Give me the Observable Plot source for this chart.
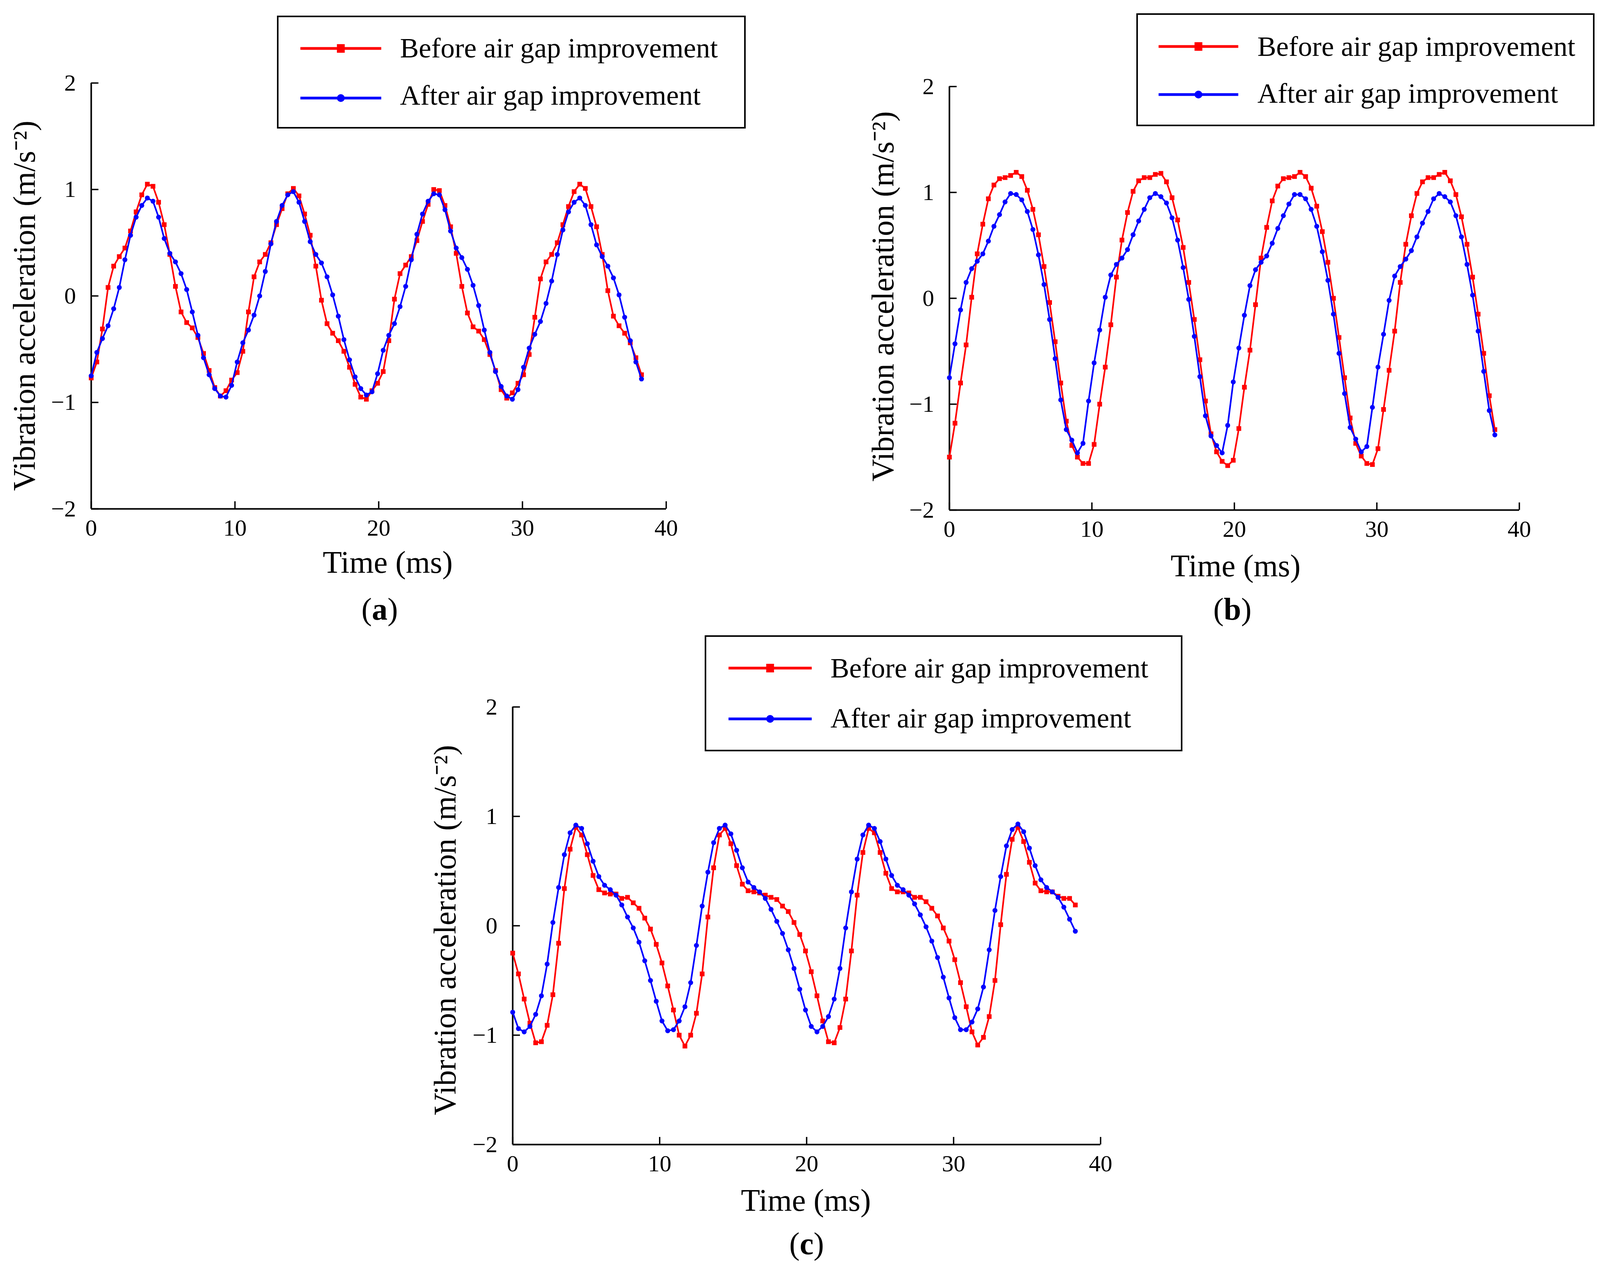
<!DOCTYPE html>
<html><head><meta charset="utf-8">
<script src="https://cdn.jsdelivr.net/npm/d3@7"></script>
<script src="https://cdn.jsdelivr.net/npm/@observablehq/plot@0.6"></script>
<style>
html,body{margin:0;padding:0;background:#fff;}
#page{position:relative;width:4120px;height:3248px;background:#fff;overflow:hidden;}
#page > svg{position:absolute;}
</style></head>
<body><div id="page"></div>
<script>
const time = [0,0.391,0.781,1.172,1.563,1.953,2.344,2.734,3.125,3.516,
3.906,4.297,4.688,5.078,5.469,5.859,6.25,6.641,7.031,7.422,
7.813,8.203,8.594,8.984,9.375,9.766,10.156,10.547,10.938,11.328,
11.719,12.109,12.5,12.891,13.281,13.672,14.063,14.453,14.844,15.234,
15.625,16.016,16.406,16.797,17.188,17.578,17.969,18.359,18.75,19.141,
19.531,19.922,20.313,20.703,21.094,21.484,21.875,22.266,22.656,23.047,
23.438,23.828,24.219,24.609,25,25.391,25.781,26.172,26.563,26.953,
27.344,27.734,28.125,28.516,28.906,29.297,29.688,30.078,30.469,30.859,
31.25,31.641,32.031,32.422,32.813,33.203,33.594,33.984,34.375,34.766,
35.156,35.547,35.938,36.328,36.719,37.109,37.5,37.891,38.281];

const aBefore = [-0.77,-0.62,-0.31,0.08,0.28,0.37,0.45,0.61,0.79,0.95,
1.05,1.03,0.88,0.67,0.39,0.09,-0.15,-0.25,-0.30,-0.39,
-0.54,-0.70,-0.86,-0.94,-0.89,-0.79,-0.72,-0.52,-0.15,0.18,
0.32,0.39,0.50,0.67,0.82,0.96,1.01,0.94,0.77,0.57,
0.28,-0.04,-0.26,-0.35,-0.42,-0.52,-0.67,-0.83,-0.95,-0.97,
-0.89,-0.82,-0.71,-0.42,-0.03,0.21,0.29,0.37,0.52,0.70,
0.86,1.00,0.99,0.85,0.65,0.40,0.09,-0.16,-0.29,-0.33,
-0.41,-0.55,-0.70,-0.88,-0.96,-0.91,-0.82,-0.74,-0.55,-0.20,
0.16,0.32,0.39,0.50,0.67,0.84,0.98,1.05,1.01,0.84,
0.65,0.39,0.05,-0.19,-0.28,-0.35,-0.44,-0.58,-0.74];

const aAfter = [-0.75,-0.53,-0.40,-0.28,-0.12,0.08,0.34,0.57,0.74,0.85,
0.92,0.89,0.74,0.54,0.40,0.32,0.21,0.06,-0.15,-0.37,
-0.58,-0.74,-0.87,-0.94,-0.95,-0.84,-0.62,-0.44,-0.32,-0.18,
0.00,0.23,0.49,0.70,0.85,0.95,0.98,0.88,0.70,0.51,
0.39,0.31,0.18,0.01,-0.19,-0.41,-0.60,-0.76,-0.87,-0.93,
-0.90,-0.73,-0.51,-0.37,-0.26,-0.10,0.09,0.34,0.58,0.77,
0.89,0.96,0.95,0.81,0.61,0.45,0.36,0.25,0.10,-0.09,
-0.32,-0.53,-0.71,-0.85,-0.94,-0.97,-0.88,-0.67,-0.49,-0.36,
-0.24,-0.07,0.14,0.39,0.62,0.79,0.88,0.92,0.85,0.67,
0.48,0.37,0.28,0.17,0.01,-0.20,-0.42,-0.62,-0.78];

const bBefore = [-1.50,-1.18,-0.80,-0.44,0.01,0.42,0.70,0.94,1.07,1.13,
1.14,1.16,1.19,1.15,1.02,0.84,0.60,0.30,-0.04,-0.41,
-0.80,-1.16,-1.39,-1.50,-1.56,-1.56,-1.38,-1.00,-0.65,-0.25,
0.20,0.55,0.81,1.01,1.11,1.14,1.14,1.17,1.18,1.10,
0.95,0.74,0.48,0.15,-0.20,-0.58,-0.97,-1.28,-1.45,-1.54,
-1.58,-1.53,-1.23,-0.84,-0.49,-0.06,0.38,0.67,0.92,1.06,
1.13,1.14,1.15,1.19,1.15,1.04,0.87,0.63,0.34,0.00,
-0.37,-0.75,-1.13,-1.37,-1.49,-1.56,-1.57,-1.42,-1.05,-0.68,
-0.31,0.15,0.51,0.78,0.99,1.10,1.14,1.14,1.17,1.19,
1.11,0.98,0.77,0.51,0.20,-0.15,-0.52,-0.92,-1.24];

const bAfter = [-0.75,-0.43,-0.11,0.15,0.28,0.35,0.42,0.54,0.68,0.79,
0.91,0.99,0.98,0.93,0.82,0.65,0.41,0.13,-0.20,-0.57,
-0.96,-1.24,-1.34,-1.46,-1.37,-0.97,-0.61,-0.30,0.01,0.22,
0.32,0.38,0.46,0.60,0.73,0.84,0.95,0.99,0.96,0.90,
0.76,0.55,0.29,-0.01,-0.36,-0.74,-1.11,-1.30,-1.39,-1.46,
-1.20,-0.79,-0.47,-0.16,0.12,0.27,0.34,0.40,0.52,0.66,
0.78,0.89,0.98,0.98,0.94,0.84,0.68,0.44,0.17,-0.15,
-0.52,-0.90,-1.22,-1.33,-1.45,-1.40,-1.03,-0.65,-0.34,-0.02,
0.21,0.30,0.37,0.45,0.58,0.71,0.82,0.94,0.99,0.96,
0.91,0.78,0.58,0.32,0.03,-0.31,-0.69,-1.06,-1.29];

const cBefore = [-0.25,-0.44,-0.67,-0.89,-1.07,-1.06,-0.91,-0.63,-0.16,0.34,
0.70,0.90,0.83,0.65,0.46,0.33,0.30,0.29,0.29,0.25,
0.26,0.21,0.16,0.07,-0.03,-0.17,-0.34,-0.55,-0.77,-1.00,
-1.10,-1.00,-0.80,-0.44,0.08,0.53,0.83,0.89,0.75,0.55,
0.38,0.32,0.31,0.30,0.28,0.26,0.24,0.18,0.13,0.03,
-0.08,-0.23,-0.42,-0.64,-0.87,-1.06,-1.07,-0.93,-0.67,-0.23,
0.28,0.67,0.89,0.85,0.67,0.48,0.34,0.31,0.31,0.30,
0.26,0.26,0.22,0.16,0.09,-0.02,-0.14,-0.31,-0.52,-0.74,
-0.97,-1.09,-1.02,-0.83,-0.50,0.01,0.47,0.79,0.90,0.77,
0.58,0.39,0.32,0.31,0.31,0.27,0.25,0.25,0.19];

const cAfter = [-0.79,-0.94,-0.97,-0.92,-0.81,-0.64,-0.35,0.03,0.35,0.65,
0.85,0.92,0.89,0.75,0.59,0.45,0.37,0.33,0.28,0.19,
0.08,-0.02,-0.15,-0.32,-0.50,-0.69,-0.87,-0.96,-0.95,-0.87,
-0.74,-0.52,-0.18,0.18,0.49,0.76,0.89,0.92,0.84,0.69,
0.53,0.40,0.35,0.31,0.25,0.15,0.04,-0.07,-0.22,-0.39,
-0.58,-0.77,-0.92,-0.97,-0.92,-0.83,-0.67,-0.39,-0.02,0.31,
0.61,0.83,0.92,0.89,0.77,0.61,0.46,0.37,0.33,0.28,
0.20,0.10,-0.01,-0.14,-0.29,-0.47,-0.66,-0.84,-0.95,-0.95,
-0.88,-0.76,-0.56,-0.22,0.14,0.45,0.73,0.88,0.93,0.86,
0.71,0.55,0.42,0.35,0.31,0.26,0.17,0.06,-0.05];

const xTicks = [0, 10, 20, 30, 40];
const yTicks = [-2, -1, 0, 1, 2];
const seriesLabels = ["Before air gap improvement", "After air gap improvement"];
const xLabel = "Time (ms)";
const yLabel = "Vibration acceleration (m/s\u207B\u00B2)";
const panelLetters = ["a", "b", "c"];

const RED = "#ff0000", BLUE = "#0000ff";
const FONT = "'Liberation Serif', 'Times New Roman', serif";

const panels = [
  {before: aBefore, after: aAfter, left: 0, top: 150, mL: 233, mT: 62, fw: 1472, fh: 1090, xdx: 23, xdy: 163, ydx: -145, ydy: 25,
   legend: {x: 709, y: 40, w: 1200, h: 289, l1: 769, l2: 976, r1: 124, r2: 251, tx: 1024, b1: 147, b2: 268},
   cap: {x: 972, y: 1586}},
  {before: bBefore, after: bAfter, left: 2100, top: 150, mL: 330, mT: 71, fw: 1459, fh: 1084, xdx: 3, xdy: 169, ydx: -144, ydy: -5,
   legend: {x: 2909, y: 34, w: 1173, h: 289, l1: 2966, l2: 3170, r1: 119, r2: 242, tx: 3219, b1: 143, b2: 263},
   cap: {x: 3155, y: 1586}},
  {before: cBefore, after: cAfter, left: 1000, top: 1700, mL: 312, mT: 109, fw: 1505, fh: 1120, xdx: -2, xdy: 169, ydx: -147, ydy: 11,
   legend: {x: 1804, y: 1626, w: 1223, h: 297, l1: 1865, l2: 2078, r1: 1710, r2: 1840, tx: 2126, b1: 1734, b2: 1862},
   cap: {x: 2065, y: 3210}}
];

const page = document.getElementById("page");

panels.forEach((p) => {
  const before = time.map((t, i) => ({t, v: p.before[i]}));
  const after = time.map((t, i) => ({t, v: p.after[i]}));
  const mR = 150, mB = 220;
  const svg = Plot.plot({
    width: p.mL + p.fw + mR,
    height: p.mT + p.fh + mB,
    marginLeft: p.mL, marginTop: p.mT, marginRight: mR, marginBottom: mB,
    x: {domain: [0, 40]},
    y: {domain: [-2, 2]},
    style: {fontFamily: FONT, fontSize: "60px", background: "transparent", color: "black", overflow: "visible"},
    marks: [
      Plot.axisX(xTicks, {tickSize: -19, tickPadding: 45, strokeWidth: 3.5, label: null, tickFormat: d3.format("d")}),
      Plot.axisY(yTicks, {tickSize: -19, tickPadding: 58, strokeWidth: 3.5, label: null, tickFormat: (d) => d < 0 ? "\u2212" + (-d) : String(d)}),
      Plot.ruleX([0], {stroke: "black", strokeWidth: 4}),
      Plot.ruleY([-2], {stroke: "black", strokeWidth: 4}),
      Plot.line(before, {x: "t", y: "v", stroke: RED, strokeWidth: 4.2}),
      Plot.dot(before, {x: "t", y: "v", symbol: "square", r: 6.8, fill: RED, stroke: "none"}),
      Plot.line(after, {x: "t", y: "v", stroke: BLUE, strokeWidth: 4.2}),
      Plot.dot(after, {x: "t", y: "v", symbol: "circle", r: 6.3, fill: BLUE, stroke: "none"}),
      Plot.text([xLabel], {frameAnchor: "bottom", lineAnchor: "bottom", textAnchor: "middle", dx: p.xdx, dy: p.xdy, fontSize: 80}),
      Plot.text([yLabel], {frameAnchor: "left", rotate: -90, lineAnchor: "bottom", textAnchor: "middle", dx: p.ydx, dy: p.ydy, fontSize: 80})
    ]
  });
  svg.style.left = p.left + "px";
  svg.style.top = p.top + "px";
  page.appendChild(svg);
});

// Overlay: legends and panel captions
const ov = d3.create("svg")
  .attr("width", 4120).attr("height", 3248)
  .style("left", "0px").style("top", "0px")
  .attr("font-family", FONT);

panels.forEach((p, k) => {
  const L = p.legend;
  const g = ov.append("g");
  g.append("rect").attr("x", L.x + 2).attr("y", L.y + 2).attr("width", L.w - 4).attr("height", L.h - 4)
    .attr("fill", "white").attr("stroke", "black").attr("stroke-width", 4);
  const rows = [
    {y: L.r1, b: L.b1, color: RED, sym: "square", label: seriesLabels[0]},
    {y: L.r2, b: L.b2, color: BLUE, sym: "circle", label: seriesLabels[1]}
  ];
  rows.forEach((r) => {
    g.append("line").attr("x1", L.l1).attr("x2", L.l2).attr("y1", r.y).attr("y2", r.y)
      .attr("stroke", r.color).attr("stroke-width", 7);
    const cx = (L.l1 + L.l2) / 2;
    if (r.sym === "square") {
      g.append("rect").attr("x", cx - 10).attr("y", r.y - 11).attr("width", 20).attr("height", 22).attr("fill", r.color);
    } else {
      g.append("circle").attr("cx", cx).attr("cy", r.y).attr("r", 10).attr("fill", r.color);
    }
    g.append("text").attr("x", L.tx).attr("y", r.b).attr("font-size", 72).attr("fill", "black").text(r.label);
  });
  const cap = ov.append("text").attr("x", p.cap.x).attr("y", p.cap.y).attr("font-size", 80)
    .attr("text-anchor", "middle").attr("fill", "black");
  cap.append("tspan").text("(");
  cap.append("tspan").attr("font-weight", "bold").text(panelLetters[k]);
  cap.append("tspan").text(")");
});

page.appendChild(ov.node());
</script>
</body></html>
